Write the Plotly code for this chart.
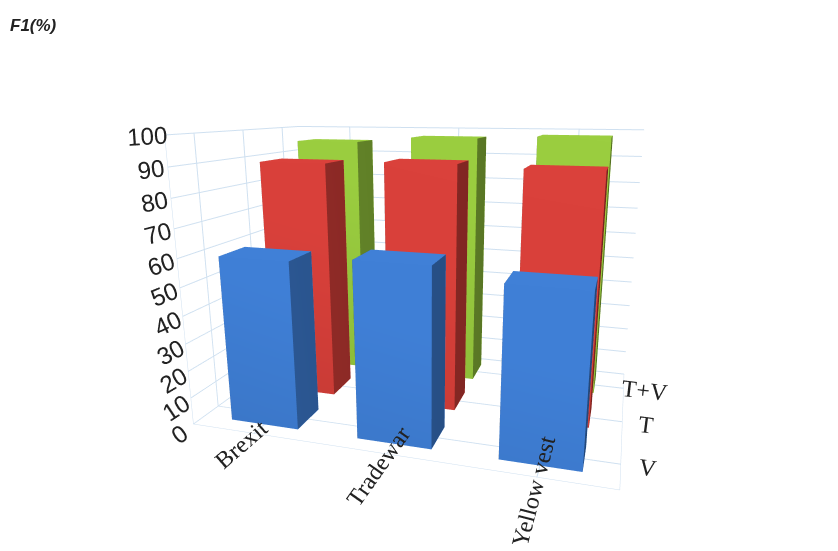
import plotly.graph_objects as go

categories = ["Brexit", "Tradewar", "Yellow vest"]
series = ["V", "T", "T+V"]
v_values = [60, 62, 58]
t_values = [89, 90, 89]
tv_values = [95, 97, 98]
colors = ["#3f7fd6", "#d9403a", "#9acd3f"]


def box(xc, yc, h, color, w=0.27):
    # 8 corners of a bar, built from its position and height
    x0, x1 = xc - w, xc + w
    y0, y1 = yc - w, yc + w
    xs = [x0, x1, x1, x0, x0, x1, x1, x0]
    ys = [y0, y0, y1, y1, y0, y0, y1, y1]
    zs = [0, 0, 0, 0, h, h, h, h]
    i = [0, 0, 4, 4, 0, 0, 1, 1, 2, 2, 3, 3]
    j = [1, 2, 5, 6, 1, 5, 2, 6, 3, 7, 0, 4]
    k = [2, 3, 6, 7, 5, 4, 6, 5, 7, 6, 4, 7]
    return go.Mesh3d(x=xs, y=ys, z=zs, i=i, j=j, k=k, color=color,
                     flatshading=True, showscale=False, hoverinfo="skip",
                     lighting=dict(ambient=0.55, diffuse=0.7, specular=0.1),
                     lightposition=dict(x=-1000, y=-3000, z=4000))


fig = go.Figure()
for s, vals in reversed(list(enumerate([v_values, t_values, tv_values]))):
    for c, v in enumerate(vals):
        fig.add_trace(box(c, s, v, colors[s]))

axis_common = dict(showbackground=False, gridcolor="#cfe0f0", linecolor="#cfe0f0",
                   zeroline=False, tickfont=dict(family="Liberation Serif", size=17, color="#222"),
                   showspikes=False)
fig.update_layout(
    width=838, height=551,
    paper_bgcolor="white",
    margin=dict(l=0, r=0, t=0, b=0),
    scene=dict(
        xaxis=dict(axis_common, title="", tickvals=[0, 1, 2], ticktext=categories, range=[-0.5, 2.5]),
        yaxis=dict(axis_common, title="", tickvals=[0, 1, 2], ticktext=series, range=[-0.5, 2.5]),
        zaxis=dict(axis_common, title="", range=[0, 100], dtick=10,
                   tickfont=dict(family="Liberation Sans", size=17, color="#222")),
        aspectmode="manual", aspectratio=dict(x=1.6, y=1.0, z=1.1),
        camera=dict(eye=dict(x=0.75, y=-2.5, z=0.65), center=dict(x=0, y=0, z=-0.05),
                    projection=dict(type="perspective")),
    ),
    annotations=[dict(text="<b><i>F1(%)</i></b>", x=0.0, y=0.99, xref="paper", yref="paper",
                      xanchor="left", yanchor="top", showarrow=False,
                      font=dict(family="Liberation Sans", size=17, color="#222"))],
)
fig.write_html("out.html")
